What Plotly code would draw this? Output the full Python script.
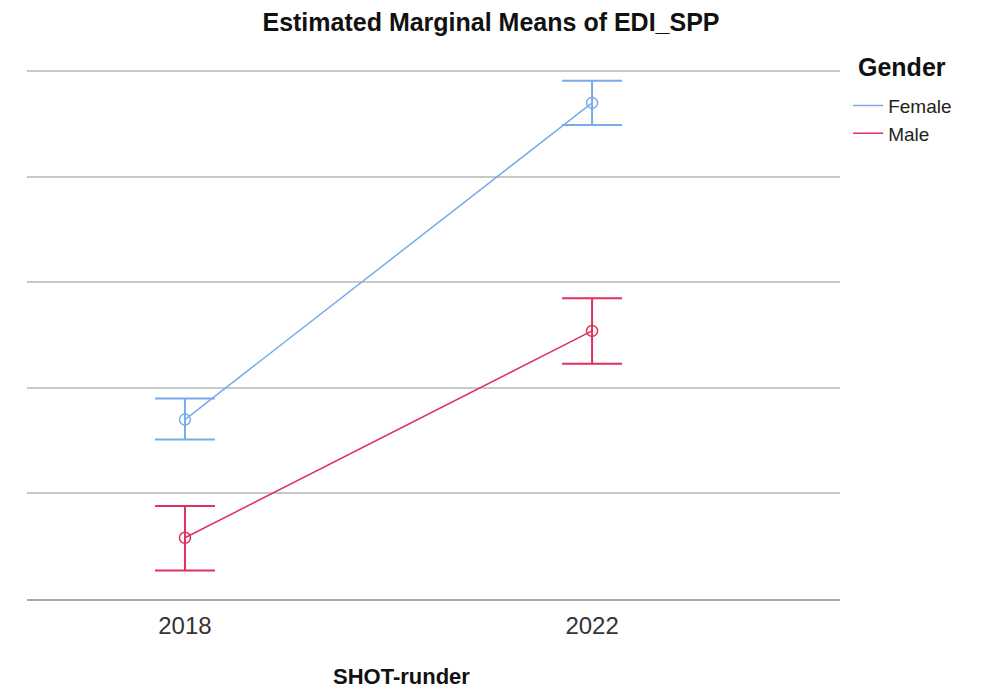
import plotly.graph_objects as go

categories = ["2018", "2022"]
female_mean = [1.70, 4.70]
female_upper = [1.90, 4.91]
female_lower = [1.51, 4.49]
male_mean = [0.58, 2.54]
male_upper = [0.88, 2.85]
male_lower = [0.27, 2.23]
groups = ["Female", "Male"]
colors = ["#78aaee", "#e0305c"]

series = [
    (female_mean, female_upper, female_lower),
    (male_mean, male_upper, male_lower),
]

fig = go.Figure()
for name, color, (m, up, lo) in zip(groups, colors, series):
    fig.add_trace(go.Scatter(
        x=categories, y=m, mode="lines+markers", showlegend=False,
        line=dict(color=color, width=1.5),
        marker=dict(symbol="circle-open", size=11, color=color, line=dict(width=1.5)),
        error_y=dict(type="data", symmetric=False,
                     array=[u - v for u, v in zip(up, m)],
                     arrayminus=[v - l for v, l in zip(m, lo)],
                     color=color, thickness=2, width=30),
    ))
for name, color in zip(groups, colors):
    fig.add_trace(go.Scatter(x=[None], y=[None], mode="lines", name=name,
                             line=dict(color=color, width=1.5)))

fig.update_layout(
    width=977, height=686,
    margin=dict(l=19, r=145, t=62, b=95),
    paper_bgcolor="white", plot_bgcolor="white",
    font=dict(family="Liberation Sans, Arial, sans-serif", color="#222"),
    title=dict(text="<b>Estimated Marginal Means of EDI_SPP</b>", x=483 / 977, xanchor="center",
               y=0.9796, yanchor="middle", font=dict(size=25, color="#111")),
    xaxis=dict(type="category", range=[-0.388, 1.609], showgrid=False,
               showline=True, linecolor="#a6a6a6", linewidth=2,
               ticks="", tickfont=dict(size=24, color="#333"), ticklabelstandoff=4),
    yaxis=dict(range=[0, 5.012], showgrid=True, gridcolor="#c8c8c8", gridwidth=2,
               dtick=1, showticklabels=False, zeroline=False, showline=False),
    legend=dict(x=1.01, xanchor="left", y=0.9685, yanchor="top",
                font=dict(size=19, color="#222"), tracegroupgap=0,
                bgcolor="rgba(0,0,0,0)"),
    annotations=[
        dict(text="<b>SHOT-runder</b>", xref="paper", yref="paper",
             x=0.461, y=-0.1456, xanchor="center", yanchor="middle",
             showarrow=False, font=dict(size=22, color="#111")),
        dict(text="<b>Gender</b>", xref="paper", yref="paper",
             x=1.0763, y=1.0057, xanchor="center", yanchor="middle",
             showarrow=False, font=dict(size=25, color="#111")),
    ],
)

fig.write_html("out.html")
